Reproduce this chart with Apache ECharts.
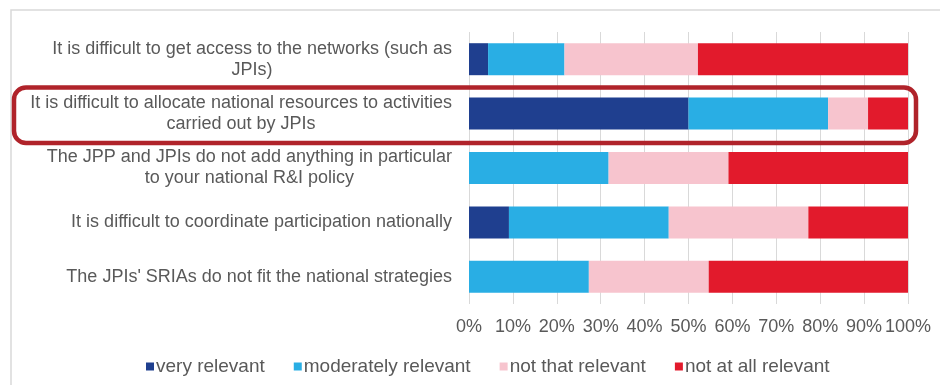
<!DOCTYPE html>
<html><head><meta charset="utf-8">
<script src="https://cdn.jsdelivr.net/npm/echarts@6/dist/echarts.min.js"></script>
<style>html,body{margin:0;padding:0;background:#fff}#c{width:940px;height:385px}</style>
</head><body><div id="c"></div>
<script>
const categories = [
  "It is difficult to get access to the networks (such as\nJPIs)",
  "It is difficult to allocate national resources to activities\ncarried out by JPIs",
  "The JPP and JPIs do not add anything in particular\nto your national R&I policy",
  "It is difficult to coordinate participation nationally",
  "The JPIs' SRIAs do not fit the national strategies"
];
const seriesNames = ["very relevant", "moderately relevant", "not that relevant", "not at all relevant"];
const veryRelevant = [4.35, 50, 0, 9.1, 0];
const moderatelyRelevant = [17.4, 31.8, 31.8, 36.4, 27.3];
const notThatRelevant = [30.4, 9.1, 27.3, 31.8, 27.3];
const notAtAllRelevant = [47.85, 9.1, 40.9, 22.7, 45.4];
const xTicks = [0, 10, 20, 30, 40, 50, 60, 70, 80, 90, 100];

const colors = ["#1f3f8f", "#29aee4", "#f7c4ce", "#e21a2c"];
const FONT = "'Liberation Sans', Arial, sans-serif";
const data = [veryRelevant, moderatelyRelevant, notThatRelevant, notAtAllRelevant];

const chart = echarts.init(document.getElementById('c'), null, {renderer: 'canvas'});
chart.setOption({
  animation: false,
  color: colors,
  textStyle: {fontFamily: FONT},
  grid: {left: 469, right: 32, top: 32, bottom: 81, containLabel: false},
  xAxis: {
    type: 'value', min: xTicks[0], max: xTicks[xTicks.length - 1], interval: 10,
    axisLine: {show: false}, axisTick: {show: false},
    splitLine: {show: true, lineStyle: {color: '#d9d9d9', width: 1}},
    axisLabel: {formatter: '{value}%', color: '#595959', fontSize: 18, fontFamily: FONT, margin: 14}
  },
  yAxis: {
    type: 'category', data: categories, inverse: true,
    axisLine: {show: false}, axisTick: {show: false},
    axisLabel: {
      color: '#595959', fontSize: 18, fontFamily: FONT, margin: 17, lineHeight: 21,
      formatter: function (v) { return v.split('\n').map(l => '{c|' + l + '}').join('\n'); },
      rich: {c: {align: 'center', fontSize: 18, fontFamily: FONT, color: '#595959', lineHeight: 21}}
    }
  },
  legend: {
    data: seriesNames, left: 141, top: 352, itemWidth: 8, itemHeight: 8, itemGap: 29,
    icon: 'rect',
    textStyle: {color: '#595959', fontSize: 19, fontFamily: FONT, padding: [0, 0, 0, -3]}
  },
  series: seriesNames.map((n, i) => ({
    name: n, type: 'bar', stack: 'total', barWidth: 32, data: data[i],
    itemStyle: {color: colors[i]}
  })),
  graphic: [
    {type: 'rect', z: 100, silent: true, shape: {x: 11, y: 10, width: 960, height: 400},
     style: {fill: 'none', stroke: '#d9d9d9', lineWidth: 1.5}},
    {type: 'rect', z: 100, silent: true, shape: {x: 14, y: 87.5, width: 902, height: 55.5, r: 12},
     style: {fill: 'none', stroke: '#b0232a', lineWidth: 4.5}}
  ]
});
</script></body></html>
